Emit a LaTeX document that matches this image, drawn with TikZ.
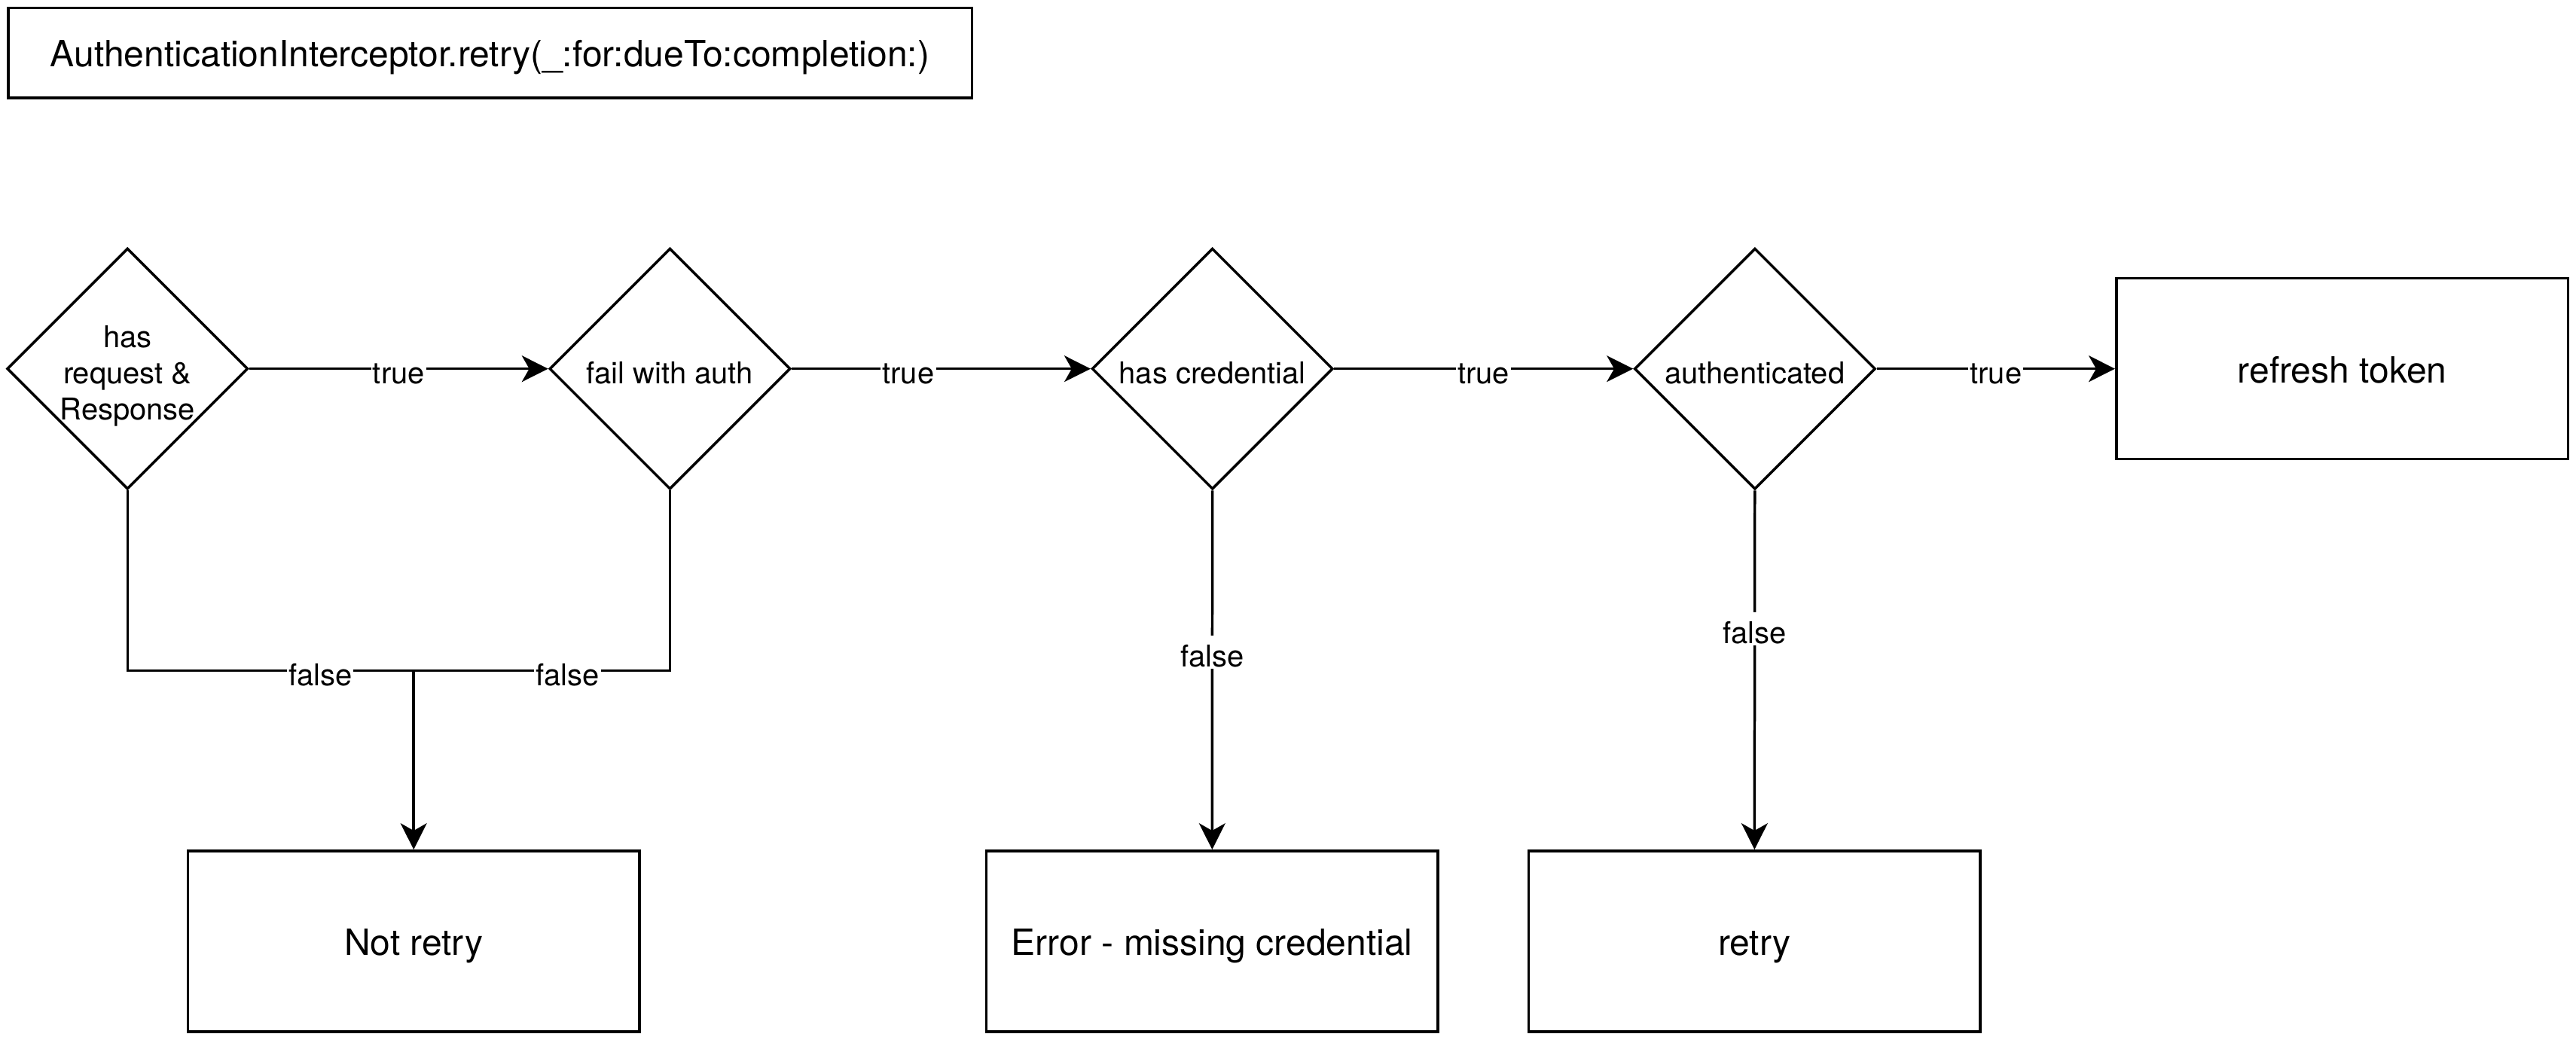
\documentclass[tikz,border=0pt]{standalone}
\usepackage{fontspec}
\setmainfont{TeX Gyre Heros}
\usetikzlibrary{shapes.geometric,arrows.meta}
\tikzset{
  process/.style={draw, line width=1.6pt, minimum width=275pt, minimum height=110pt,
    inner sep=0pt, text height=17.2pt, text depth=0pt, font=\fontsize{22}{26}\selectfont},
  decision/.style={diamond, draw, line width=1.6pt, minimum width=146.7pt,
    minimum height=146.7pt, inner sep=-6pt, align=center, text height=18pt,
    text depth=0pt, font=\fontsize{18.3}{22}\selectfont},
  edgelabel/.style={fill=white, inner sep=1pt, text height=18pt, text depth=0pt,
    font=\fontsize{18.3}{22}\selectfont}
}
\begin{document}
\begin{tikzpicture}[x=1pt, y=-1pt, line width=1.6pt,
    >={Stealth[length=16pt, width=16pt, inset=4.5pt]}]
      \useasboundingbox (0,0) rectangle (1568,632.7);
      \draw
        (298.3,32.2) node[process, minimum width=586.7pt, minimum height=55pt] (title)
          {AuthenticationInterceptor.retry(\_:for:dueTo:completion:)}
        (77.6,224.5) node[decision, text height=62pt] (hasreq) {has\\request \&\\Response}
        (407.8,224.5) node[decision] (failauth) {fail with auth}
        (738.0,224.5) node[decision] (hascred) {has credential}
        (1068.2,224.5) node[decision] (authed) {authenticated}
        (1425.7,224.5) node[process] (refresh) {refresh token}
        (251.8,573.0) node[process] (noretry) {Not retry}
        (737.8,573.0) node[process] (error) {Error - missing credential}
        (1067.9,573.0) node[process] (retry) {retry};
      \coordinate (join) at (251.8,408.3);
      \begin{scope}[-]
        \draw (hasreq) |- node[edgelabel, pos=0.837]{false} (join);
        \draw (failauth) |- node[edgelabel, pos=0.70]{false} (join);
      \end{scope}
      \begin{scope}[->]
        \draw (join) -- (noretry);
        \draw (hasreq) to node[edgelabel]{true} (failauth);
        \draw (failauth) to node[edgelabel, pos=0.39]{true} (hascred);
        \draw (hascred) to node[edgelabel]{true} (authed);
        \draw (authed) to node[edgelabel]{true} (refresh);
        \draw (hascred) to node[edgelabel, pos=0.45]{false} (error);
        \draw (authed) to node[edgelabel, pos=0.385]{false} (retry);
      \end{scope}
    \end{tikzpicture}
\end{document}
